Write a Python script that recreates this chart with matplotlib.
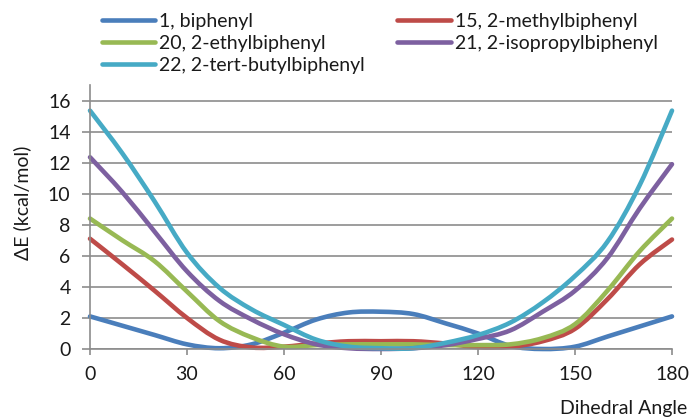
import numpy as np
import matplotlib
matplotlib.use("Agg")
import matplotlib.pyplot as plt
from matplotlib.path import Path
from matplotlib.patches import PathPatch
from matplotlib.lines import Line2D

plt.rcParams['font.family'] = ['Lato', 'DejaVu Sans']

# relative energy vs. dihedral angle, every 10 degrees
angle = np.arange(0, 181, 10)
biphenyl = [2.1, 1.5, 0.9, 0.3, 0.05, 0.3, 1.05, 1.9, 2.35, 2.4, 2.25, 1.65, 1.0, 0.2, 0.0, 0.15, 0.8, 1.45, 2.1]
methyl = [7.1, 5.45, 3.75, 2.0, 0.6, 0.1, 0.15, 0.35, 0.5, 0.5, 0.5, 0.35, 0.12, 0.15, 0.5, 1.3, 3.2, 5.45, 7.05]
ethyl = [8.4, 7.0, 5.65, 3.7, 1.8, 0.75, 0.15, 0.25, 0.3, 0.3, 0.3, 0.25, 0.25, 0.3, 0.7, 1.6, 3.75, 6.3, 8.4]
isopropyl = [12.35, 10.1, 7.55, 5.0, 3.1, 1.9, 0.95, 0.3, 0.05, 0.0, 0.05, 0.25, 0.65, 1.2, 2.4, 3.75, 5.85, 9.05, 11.9]
tertbutyl = [15.35, 12.6, 9.5, 6.2, 3.95, 2.55, 1.55, 0.6, 0.15, 0.05, 0.05, 0.4, 0.9, 1.7, 3.0, 4.7, 6.9, 10.55, 15.35]

labels = ["1, biphenyl", "15, 2-methylbiphenyl", "20, 2-ethylbiphenyl",
          "21, 2-isopropylbiphenyl", "22, 2-tert-butylbiphenyl"]
colors = ["#4A7EBB", "#BE4B48", "#98B954", "#7D60A0", "#46AAC5"]
series = [biphenyl, methyl, ethyl, isopropyl, tertbutyl]


def smooth_path(x, y):
    """Bezier path through the points, like a spreadsheet's smoothed line"""
    p = np.column_stack([x, y]).astype(float)
    ext = np.vstack([p[0], p, p[-1]])
    verts = [p[0]]
    codes = [Path.MOVETO]
    for i in range(len(p) - 1):
        c1 = ext[i + 1] + (ext[i + 2] - ext[i]) / 6.0
        c2 = ext[i + 2] - (ext[i + 3] - ext[i + 1]) / 6.0
        verts += [c1, c2, p[i + 1]]
        codes += [Path.CURVE4] * 3
    return Path(verts, codes)


fig = plt.figure(figsize=(6.89, 4.19), dpi=100)
ax = fig.add_axes([90 / 689, 1 - 349 / 419, 582 / 689, 264 / 419])

lw = 3.3
for vals, c in zip(series, colors):
    patch = PathPatch(smooth_path(angle, vals), fill=False, edgecolor=c,
                      lw=lw, capstyle='round', joinstyle='round', clip_on=False)
    ax.add_patch(patch)

ax.set_xlim(0, 180)
ax.set_ylim(0, 17)
ax.set_xticks(np.arange(0, 181, 30))
ax.set_yticks(np.arange(0, 17, 2))

fs = 14
txt_c = "#1a1a1a"
grid_c = "#8c8c8c"
ax.yaxis.grid(True, color=grid_c, lw=1.2)
ax.set_axisbelow(True)
for s in ["top", "right"]:
    ax.spines[s].set_visible(False)
for s in ["left", "bottom"]:
    ax.spines[s].set_color(grid_c)
    ax.spines[s].set_linewidth(1.2)
ax.tick_params(axis='x', length=4.5, width=1.2, color=grid_c, pad=8,
               labelsize=fs, labelcolor=txt_c)
ax.tick_params(axis='y', length=6, width=1.2, color=grid_c, pad=8,
               labelsize=fs, labelcolor=txt_c)

ax.set_ylabel("ΔE (kcal/mol)", fontsize=fs, color=txt_c, va='center')
ax.yaxis.set_label_coords(-0.117, 0.553)
ax.set_xlabel("Dihedral Angle", fontsize=fs, color=txt_c, ha='right', va='center')
ax.xaxis.set_label_coords(1.027, -0.2235)

# legend filled row by row: two columns
handles = [Line2D([], [], color=c, lw=lw, solid_capstyle='round') for c in colors]
order = [0, 2, 4, 1, 3]
fig.legend([handles[i] for i in order], [labels[i] for i in order],
           ncol=2, loc='upper left', bbox_to_anchor=(102 / 689, 1 - 13 / 419),
           frameon=False, fontsize=fs, labelcolor=txt_c, handlelength=2.75,
           handletextpad=0.2, columnspacing=1.65, labelspacing=0.26,
           borderpad=0, borderaxespad=0)

fig.savefig("out.png", dpi=100)
